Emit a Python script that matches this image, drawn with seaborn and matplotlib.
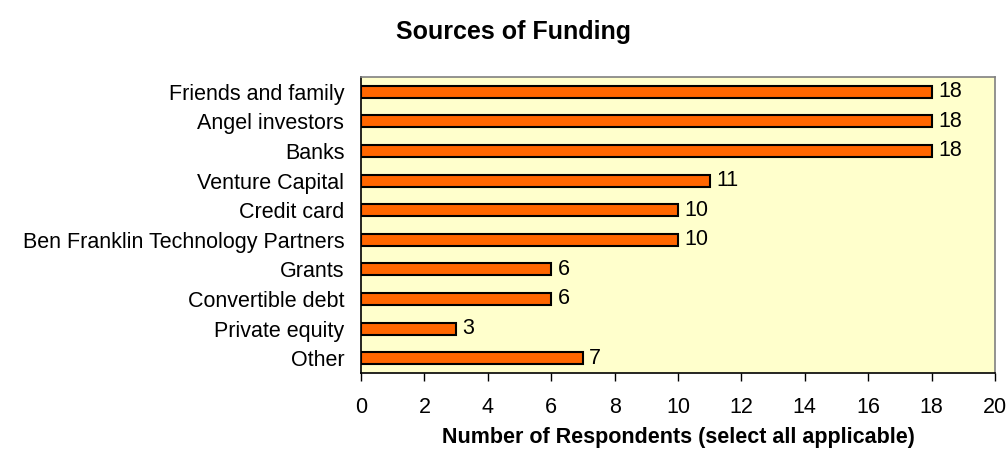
import matplotlib
matplotlib.use("Agg")
import matplotlib.pyplot as plt
import seaborn as sns
import pandas as pd

categories = ["Friends and family", "Angel investors", "Banks", "Venture Capital",
              "Credit card", "Ben Franklin Technology Partners", "Grants",
              "Convertible debt", "Private equity", "Other"]
values = [18, 18, 18, 11, 10, 10, 6, 6, 3, 7]
xticks = [0, 2, 4, 6, 8, 10, 12, 14, 16, 18, 20]

sns.set_theme(style="white")
plt.rcParams['font.family'] = ['Liberation Sans', 'DejaVu Sans']
plt.rcParams['text.color'] = 'black'
plt.rcParams['xtick.color'] = 'black'
plt.rcParams['ytick.color'] = 'black'
plt.rcParams['axes.labelcolor'] = 'black'

FS = 15.5
df = pd.DataFrame({"cat": categories, "val": values})

fig = plt.figure(figsize=(10.08, 4.55), dpi=100)
ax = fig.add_axes([361/1008, 1-373/455, (995-361)/1008, (373-77)/455])
ax.set_facecolor("#FFFFCC")
sns.barplot(data=df, x="val", y="cat", orient="h", color="#FF6600",
            edgecolor="black", linewidth=1.5, width=0.4, saturation=1, ax=ax)
for p, v in zip(ax.patches, values):
    ax.text(p.get_width() + 0.2, p.get_y() + p.get_height()/2, str(v),
            va="center", ha="left", fontsize=FS, color="black")
ax.set_xlim(0, 20)
ax.set_xticks(xticks)
ax.set_xticklabels([str(t) for t in xticks], fontsize=FS)
ax.tick_params(axis="x", bottom=True, length=6, width=1, direction="out", color="black", pad=11)
ax.tick_params(axis="y", left=False, labelsize=FS, pad=6)
ax.set_ylabel("")
ax.set_xlabel("Number of Respondents (select all applicable)", fontsize=FS,
              fontweight="bold", labelpad=7)
for s in ["left", "bottom"]:
    ax.spines[s].set_color("black")
    ax.spines[s].set_linewidth(1.2)
for s in ["top", "right"]:
    ax.spines[s].set_color("#808080")
    ax.spines[s].set_linewidth(1.2)
fig.text(514/1008, 1-39/455, "Sources of Funding", ha="center", va="baseline",
         fontsize=18, fontweight="bold")
fig.savefig("out.png", dpi=100, facecolor="white")
